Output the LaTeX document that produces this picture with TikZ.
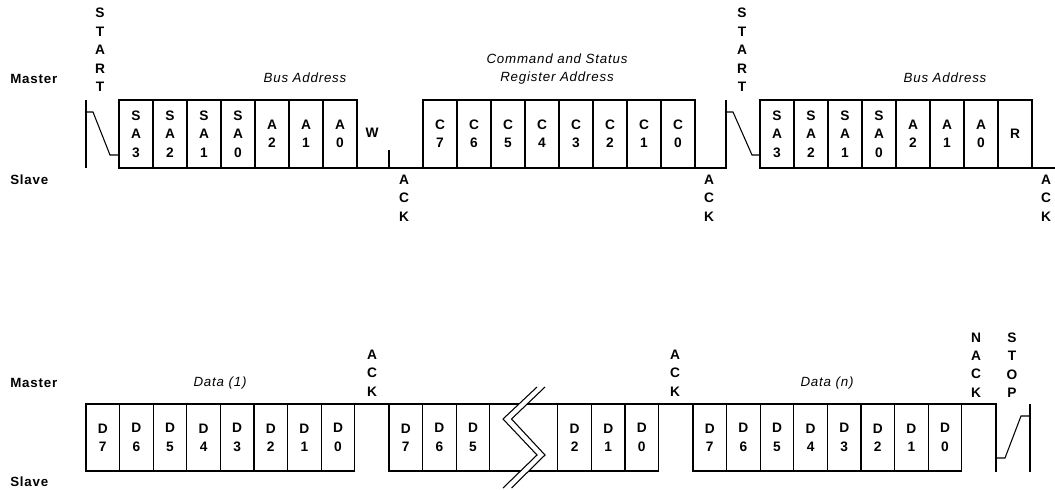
\documentclass[tikz,border=0pt]{standalone}
\usepackage{fontspec}
\setmainfont{Liberation Sans}[LetterSpace=6]
\usetikzlibrary{positioning}
\tikzstyle{bit} = [rectangle, minimum width=25.5pt, minimum height=51pt, inner sep=0pt, outer sep=0pt, draw=black, line width=0.8pt, text centered, align=center, font=\bfseries\fontsize{10.3}{13.8}\selectfont]
\tikzstyle{bitd} = [bit, minimum width=25.2pt, minimum height=50.25pt]
\tikzstyle{gap} = [bitd, minimum width=51pt]
\tikzstyle{flag} = [align=center, inner sep=0pt, font=\bfseries\fontsize{10.3}{13.8}\selectfont]
\tikzstyle{side} = [anchor=west, inner sep=0pt, font=\bfseries\fontsize{10}{12}\selectfont]
\tikzstyle{field} = [align=center, inner sep=0pt, font=\itshape\fontsize{10}{13.5}\selectfont]
\tikzstyle{wave} = [line width=0.8pt]

\begin{document}
\begin{tikzpicture}[x=0.75pt, y=-0.75pt]
    \useasboundingbox (0,0) rectangle (1055,489);
    % address and register
    \node (m1) [side] at (10,79) {Master};
    \node (s1) [side] at (10,180) {Slave};
    \node (start1) [flag] at (100,50) {S\\T\\A\\R\\T};
    \node (bus1) [field] at (305,78) {Bus Address};
    \node (sa3) [bit, anchor=north west] at (119,100) {S\\A\\3};
    \node (sa2) [bit, right=0pt of sa3] {S\\A\\2};
    \node (sa1) [bit, right=0pt of sa2] {S\\A\\1};
    \node (sa0) [bit, right=0pt of sa1] {S\\A\\0};
    \node (a2) [bit, right=0pt of sa0] {A\\2};
    \node (a1) [bit, right=0pt of a2] {A\\1};
    \node (a0) [bit, right=0pt of a1] {A\\0};
    \node (wr) [flag] at (372,133) {W};
    \node (ack1) [flag] at (404,198) {A\\C\\K};
    \node (csr) [field] at (557,69) {Command and Status\\Register Address};
    \node (c7) [bit, anchor=north west] at (423,100) {C\\7};
    \node (c6) [bit, right=0pt of c7] {C\\6};
    \node (c5) [bit, right=0pt of c6] {C\\5};
    \node (c4) [bit, right=0pt of c5] {C\\4};
    \node (c3) [bit, right=0pt of c4] {C\\3};
    \node (c2) [bit, right=0pt of c3] {C\\2};
    \node (c1) [bit, right=0pt of c2] {C\\1};
    \node (c0) [bit, right=0pt of c1] {C\\0};
    \node (ack2) [flag] at (709,198) {A\\C\\K};
    \node (start2) [flag] at (742,50) {S\\T\\A\\R\\T};
    \node (bus2) [field] at (945,78) {Bus Address};
    \node (sb3) [bit, anchor=north west] at (760,100) {S\\A\\3};
    \node (sb2) [bit, right=0pt of sb3] {S\\A\\2};
    \node (sb1) [bit, right=0pt of sb2] {S\\A\\1};
    \node (sb0) [bit, right=0pt of sb1] {S\\A\\0};
    \node (b2) [bit, right=0pt of sb0] {A\\2};
    \node (b1) [bit, right=0pt of b2] {A\\1};
    \node (b0) [bit, right=0pt of b1] {A\\0};
    \node (rd) [bit, right=0pt of b0] {R};
    \node (ack3) [flag] at (1046,198) {A\\C\\K};
    \draw[wave] (86,100) -- (86,168);
    \draw[wave] (86,112) -- (93,112) -- (110,155) -- (119,155);
    \draw[wave] (a0.south east) -- (c7.south west);
    \draw[wave] (389,150) -- (389,168);
    \draw[wave] (c0.south east) -- (726,168) -- (726,100);
    \draw[wave] (726,112) -- (733,112) -- (752,155) -- (760,155);
    \draw[wave] (rd.south east) -- (1055,168);
    % data bytes
    \node (m2) [side] at (10,383) {Master};
    \node (s2) [side] at (10,482) {Slave};
    \node (data1) [field] at (220,383) {Data (1)};
    \node (d7) [bitd, anchor=north west] at (86,404) {D\\7};
    \node (d6) [bitd, right=0pt of d7] {D\\6};
    \node (d5) [bitd, right=0pt of d6] {D\\5};
    \node (d4) [bitd, right=0pt of d5] {D\\4};
    \node (d3) [bitd, right=0pt of d4] {D\\3};
    \node (d2) [bitd, right=0pt of d3] {D\\2};
    \node (d1) [bitd, right=0pt of d2] {D\\1};
    \node (d0) [bitd, right=0pt of d1] {D\\0};
    \node (ack4) [flag] at (372,373) {A\\C\\K};
    \node (e7) [bitd, anchor=north west] at (389,404) {D\\7};
    \node (e6) [bitd, right=0pt of e7] {D\\6};
    \node (e5) [bitd, right=0pt of e6] {D\\5};
    \node (brk) [gap, right=0pt of e5] {};
    \node (e2) [bitd, right=0pt of brk] {D\\2};
    \node (e1) [bitd, right=0pt of e2] {D\\1};
    \node (e0) [bitd, right=0pt of e1] {D\\0};
    \node (ack5) [flag] at (675,373) {A\\C\\K};
    \node (datan) [field] at (827,383) {Data (n)};
    \node (f7) [bitd, anchor=north west] at (693,404) {D\\7};
    \node (f6) [bitd, right=0pt of f7] {D\\6};
    \node (f5) [bitd, right=0pt of f6] {D\\5};
    \node (f4) [bitd, right=0pt of f5] {D\\4};
    \node (f3) [bitd, right=0pt of f4] {D\\3};
    \node (f2) [bitd, right=0pt of f3] {D\\2};
    \node (f1) [bitd, right=0pt of f2] {D\\1};
    \node (f0) [bitd, right=0pt of f1] {D\\0};
    \node (nack) [flag] at (976,365) {N\\A\\C\\K};
    \node (stop) [flag] at (1012,365) {S\\T\\O\\P};
    \draw[wave] (d0.north east) -- (e7.north west);
    \draw[wave] (e0.north east) -- (f7.north west);
    \draw[wave] (f0.north east) -- (996,404) -- (996,472);
    \draw[wave] (996,458) -- (1005,458) -- (1021,416) -- (1030,416);
    \draw[wave] (1030,404) -- (1030,472);
    \fill[white] (537,387) -- (503,419) -- (537,455) -- (503,488) -- (511.5,488) -- (545,455) -- (511.5,419) -- (545,387) -- cycle;
    \draw[wave] (537,387) -- (503,419) -- (537,455) -- (503,488);
    \draw[wave] (545,387) -- (511.5,419) -- (545,455) -- (511.5,488);
\end{tikzpicture}
\end{document}
